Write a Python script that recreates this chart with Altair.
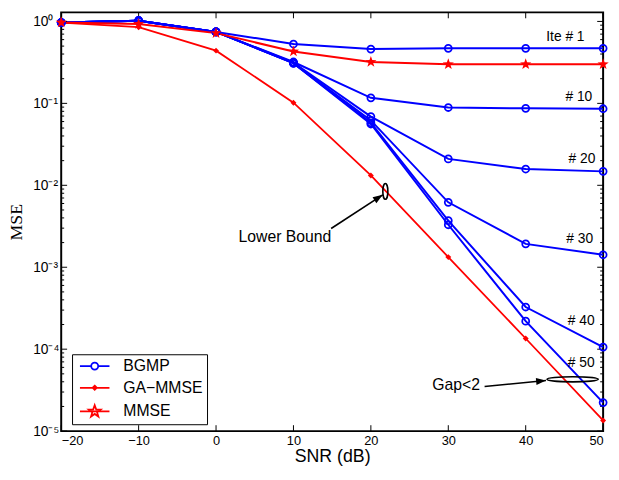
import math
import altair as alt
import pandas as pd

# ---------------- data ----------------
snr = [-20, -10, 0, 10, 20, 30, 40, 50]

bgmp_names = ["Ite # 1", "# 10", "# 20", "# 30", "# 40", "# 50"]
bgmp_ite1 = [0.97, 1.02, 0.745, 0.53, 0.46, 0.47, 0.47, 0.47]
bgmp_ite10 = [0.97, 1.02, 0.745, 0.32, 0.117, 0.089, 0.087, 0.086]
bgmp_ite20 = [0.97, 1.02, 0.745, 0.315, 0.069, 0.021, 0.0158, 0.0148]
bgmp_ite30 = [0.97, 1.02, 0.745, 0.31, 0.062, 0.0062, 0.00193, 0.00142]
bgmp_ite40 = [0.97, 1.02, 0.745, 0.31, 0.058, 0.0037, 0.000327, 0.000106]
bgmp_ite50 = [0.97, 1.02, 0.745, 0.31, 0.056, 0.0033, 0.00022, 0.0000223]
ga_mmse = [0.97, 0.85, 0.44, 0.102, 0.0132, 0.00133, 0.000135, 0.0000135]
mmse = [0.97, 0.93, 0.72, 0.43, 0.32, 0.30, 0.30, 0.30]

methods = ["BGMP", "GA\u2212MMSE", "MMSE"]
method_colors = ["#0000ff", "#ff0000", "#ff0000"]

# iteration labels
ite_text = ["Ite # 1", "# 10", "# 20", "# 30", "# 40", "# 50"]
ite_x = [47.6, 48.6, 49.0, 48.7, 48.9, 48.9]
ite_y = [0.649, 0.119, 0.0212, 0.00221, 0.000218, 0.0000686]

# annotations
note_text = ["Lower Bound", "Gap<2"]
note_x = [8.9, 31.0]
note_y = [0.00234, 0.0000363]

ell_x = [21.87, 46.06]
ell_y = [0.00843, 0.0000429]

arrow_x = [14.87, 34.69]
arrow_y = [0.00297, 0.0000351]
arrow_x2 = [21.53, 42.62]
arrow_y2 = [0.00765, 0.0000414]

y_major = [1e-5, 1e-4, 1e-3, 1e-2, 1e-1, 1]
y_major_labels = ["10\u207b\u2075", "10\u207b\u2074", "10\u207b\u00b3", "10\u207b\u00b2", "10\u207b\u00b9", "10\u2070"]
y_minor = [k * 10.0 ** d for d in range(-5, 0) for k in range(2, 10)]

W, H = 550, 425

# ---------------- tables ----------------
rows = []
for name, vals in zip(bgmp_names, [bgmp_ite1, bgmp_ite10, bgmp_ite20, bgmp_ite30, bgmp_ite40, bgmp_ite50]):
    for x, y in zip(snr, vals):
        rows.append({"snr": x, "mse": y, "series": "BGMP " + name, "method": "BGMP"})
for x, y in zip(snr, ga_mmse):
    rows.append({"snr": x, "mse": y, "series": "GA", "method": methods[1]})
for x, y in zip(snr, mmse):
    rows.append({"snr": x, "mse": y, "series": "MMSE", "method": "MMSE"})
df = pd.DataFrame(rows)

df_bgmp = df[df.method == "BGMP"]
df_ga = df[df.method == methods[1]]
df_mmse = df[df.method == "MMSE"]

df_ite = pd.DataFrame({"x": ite_x, "y": ite_y, "t": ite_text})
df_note = pd.DataFrame({"x": note_x, "y": note_y, "t": note_text})
df_ell = pd.DataFrame({"x": ell_x, "y": ell_y})
df_arrow = pd.DataFrame({"x": arrow_x, "y": arrow_y, "x2": arrow_x2, "y2": arrow_y2})
df_xt = pd.DataFrame({"x": snr})
df_ymaj = pd.DataFrame({"y": y_major})
df_ymin = pd.DataFrame({"y": y_minor})

# ---------------- scales / axes ----------------
FONT = "Liberation Sans"
x_scale = alt.Scale(domain=[-20, 50], nice=False, zero=False)
y_scale = alt.Scale(type="log", domain=[1e-5, 1.29], nice=False)

label_expr = " : ".join(
    f"datum.value > {v * 0.5:.10f} ? '{lab}'" for v, lab in sorted(zip(y_major, y_major_labels), reverse=True)
) + " : ''"

ax_x = alt.Axis(orient="bottom", values=snr, ticks=False, tickSize=0, domain=False, grid=False,
                labelFont=FONT, labelFontSize=13, labelColor="black", labelPadding=4,
                title="SNR (dB)", titleFont=FONT, titleFontSize=18, titleFontWeight="normal",
                titleColor="black", titlePadding=0)
ax_y = alt.Axis(orient="left", values=y_major, labelExpr=label_expr, ticks=False, tickSize=0,
                domain=False, grid=False, labelAlign="left", labelPadding=29, labelFont=FONT,
                labelFontSize=14, labelColor="black", title="MSE", titleFont="Liberation Serif",
                titleFontSize=18, titleFontWeight="normal", titleColor="black", titlePadding=7)


def X(field="snr:Q"):
    return alt.X(field, scale=x_scale, axis=ax_x)


def Y(field="mse:Q"):
    return alt.Y(field, scale=y_scale, axis=ax_y)


def star_path(r_out, r_in):
    pts = []
    for i in range(10):
        a = -math.pi / 2 + i * math.pi / 5
        r = r_out if i % 2 == 0 else r_in
        pts.append((r * math.cos(a), r * math.sin(a)))
    return "M " + " L ".join(f"{px:.3f} {py:.3f}" for px, py in pts) + " Z"


STAR = star_path(1.0, 0.4)

# ---------------- layers ----------------
line_bgmp = alt.Chart(df_bgmp).mark_line(strokeWidth=2, color="#0000ff").encode(
    x=X(), y=Y(), detail="series:N")
line_ga = alt.Chart(df_ga).mark_line(strokeWidth=1.8, color="#ff0000").encode(x=X(), y=Y())
line_mmse = alt.Chart(df_mmse).mark_line(strokeWidth=2, color="#ff0000").encode(x=X(), y=Y())

pts_bgmp = alt.Chart(df_bgmp).mark_point(
    shape="circle", filled=False, size=50, strokeWidth=1.8, color="#0000ff", opacity=1
).encode(x=X(), y=Y())

pts_ga = alt.Chart(df_ga).mark_point(
    shape="diamond", filled=True, size=36, color="#ff0000", opacity=1
).encode(x=X(), y=Y())

pts_mmse = alt.Chart(df_mmse).mark_point(
    shape=STAR, filled=True, size=144, color="#ff0000", opacity=1
).encode(x=X(), y=Y())

# legend symbols: a short line with the marker on it
legend_paths = [
    "M -2.14 0 L -0.51 0 M 0.51 0 L 2.14 0 M 0.51 0 A 0.51 0.51 0 1 1 -0.51 0 A 0.51 0.51 0 1 1 0.51 0",
    "M -2.14 0 L 2.14 0 M 0 -0.3 L 0.3 0 L 0 0.3 L -0.3 0 Z",
    "M -2.14 0 L 2.14 0 " + star_path(0.9, 0.36),
]

leg = alt.Legend(title=None, orient="none", legendX=11, legendY=347, strokeColor="black",
                 fillColor="white", padding=4, labelFont=FONT, labelFontSize=16, labelColor="black",
                 symbolSize=196, symbolStrokeWidth=1.8, symbolOffset=11, labelOffset=21,
                 rowPadding=6)

# invisible layer that only carries the legend (data taken at the middle of the plot)
legend_layer = alt.Chart(df[df.snr == 20]).mark_point(opacity=0, filled=False, size=196,
                                                       strokeWidth=1.8).encode(
    x=X(), y=Y(),
    color=alt.Color("method:N", scale=alt.Scale(domain=methods, range=method_colors), legend=leg),
    shape=alt.Shape("method:N", scale=alt.Scale(domain=methods, range=legend_paths), legend=leg),
)

ite_labels = alt.Chart(df_ite).mark_text(font=FONT, fontSize=14, align="right", baseline="middle",
                                          color="black").encode(
    x=X("x:Q"), y=Y("y:Q"), text="t:N")

notes = alt.Chart(df_note).mark_text(font=FONT, fontSize=16, align="center", baseline="middle",
                                     color="black").encode(
    x=X("x:Q"), y=Y("y:Q"), text="t:N")

ell_lb = alt.Chart(df_ell.iloc[[0]]).mark_point(
    shape="M 0 -1 A 0.32 1 0 1 0 0 1 A 0.32 1 0 1 0 0 -1 Z", size=256, filled=False,
    color="black", strokeWidth=1.6, opacity=1
).encode(x=X("x:Q"), y=Y("y:Q"))

ell_gap = alt.Chart(df_ell.iloc[[1]]).mark_point(
    shape="M -1 0 A 1 0.1 0 1 0 1 0 A 1 0.1 0 1 0 -1 0 Z", size=2704, filled=False,
    color="black", strokeWidth=1.6, opacity=1
).encode(x=X("x:Q"), y=Y("y:Q"))

arrow_lines = alt.Chart(df_arrow).mark_rule(color="black", strokeWidth=1.6).encode(
    x=X("x:Q"), y=Y("y:Q"), x2="x2:Q", y2="y2:Q")

head_path = "M 0 0 L -2 -0.7 L -2 0.7 Z"
head1 = alt.Chart(df_arrow.iloc[[0]]).mark_point(
    shape=head_path, size=100, filled=True, color="black", angle=326.7, opacity=1
).encode(x=X("x2:Q"), y=Y("y2:Q"))
head2 = alt.Chart(df_arrow.iloc[[1]]).mark_point(
    shape=head_path, size=100, filled=True, color="black", angle=354.5, opacity=1
).encode(x=X("x2:Q"), y=Y("y2:Q"))

# inward tick marks (matlab style box ticks)
tick_style = dict(color="black", strokeWidth=1)
xt_bottom = alt.Chart(df_xt).mark_rule(**tick_style).encode(
    x=X("x:Q"), y=alt.value(H), y2=alt.value(H - 6))
xt_top = alt.Chart(df_xt).mark_rule(**tick_style).encode(
    x=X("x:Q"), y=alt.value(0), y2=alt.value(6))
yt_left = alt.Chart(df_ymaj).mark_rule(**tick_style).encode(
    y=Y("y:Q"), x=alt.value(0), x2=alt.value(6))
yt_right = alt.Chart(df_ymaj).mark_rule(**tick_style).encode(
    y=Y("y:Q"), x=alt.value(W), x2=alt.value(W - 6))
ym_left = alt.Chart(df_ymin).mark_rule(**tick_style).encode(
    y=Y("y:Q"), x=alt.value(0), x2=alt.value(3))
ym_right = alt.Chart(df_ymin).mark_rule(**tick_style).encode(
    y=Y("y:Q"), x=alt.value(W), x2=alt.value(W - 3))

chart = alt.layer(
    line_bgmp, line_ga, line_mmse, xt_bottom, xt_top, yt_left, yt_right, ym_left, ym_right,
    pts_bgmp, pts_ga, pts_mmse, legend_layer, ite_labels, notes,
    ell_lb, ell_gap, arrow_lines, head1, head2
).properties(
    width=W, height=H,
    padding={"left": 0, "top": 0, "right": 0, "bottom": 0},
    background="white",
).configure_view(stroke="black", strokeWidth=2)

chart.save("out.html", embed_options={"renderer": "svg", "actions": False})
